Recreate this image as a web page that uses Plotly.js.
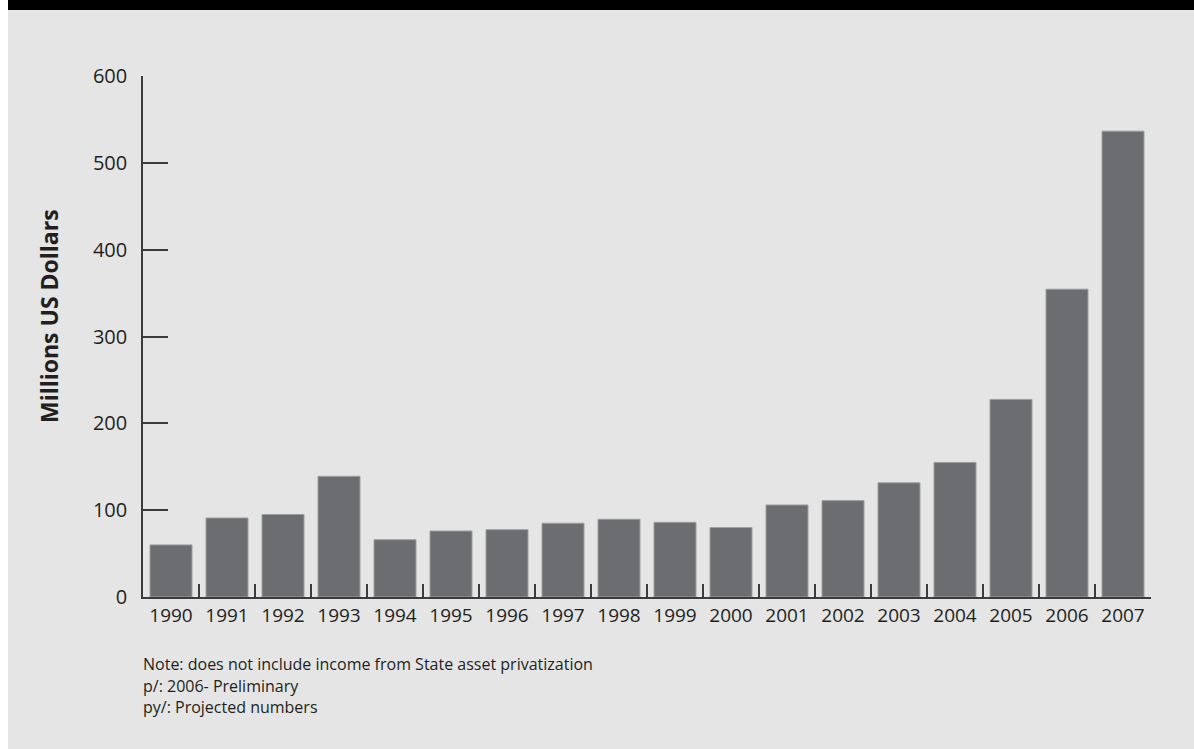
<!DOCTYPE html>
<html>
<head>
<meta charset="utf-8">
<script src="https://cdn.plot.ly/plotly-3.0.1.min.js"></script>
<style>
  html, body { margin: 0; padding: 0; background: #ffffff; }
  #chart { width: 1194px; height: 749px; }
</style>
</head>
<body>
<div id="chart"></div>
<script>
// ---- data ----
const years = ["1990","1991","1992","1993","1994","1995","1996","1997","1998","1999","2000","2001","2002","2003","2004","2005","2006","2007"];
const values = [60, 91, 95, 139, 66, 76, 77.5, 85, 89.5, 86, 80, 106, 111, 131.5, 155, 227.5, 354.5, 536.5];
const yTickVals = [0, 100, 200, 300, 400, 500, 600];
const yTitle = "Millions US Dollars";
const noteLines = [
  "Note: does not include income from State asset privatization",
  "p/: 2006- Preliminary",
  "py/: Projected numbers"
];

// ---- geometry (pixels) ----
const W = 1194, H = 749;
const mL = 143, mR = 43, mT = 76, mB = 152;
const plotW = W - mL - mR, plotH = H - mT - mB;
const px = x => (x - mL) / plotW;          // pixel x -> paper
const py = y => (H - mB - y) / plotH;      // pixel y -> paper

const textColor = "#231f20";
const axisColor = "#3c3c3e";

const trace = {
  type: "bar",
  x: years,
  y: values,
  marker: { color: "#6c6d71", line: { color: "#9d9ea0", width: 1 } },
  hoverinfo: "x+y"
};

const noteY = [664, 685.5, 707];
const noteAnnotations = noteLines.map((t, i) => ({
  text: t, align: "left",
  xref: "paper", yref: "paper", x: px(142), y: py(noteY[i]),
  xanchor: "left", yanchor: "middle", showarrow: false, borderpad: 0,
  font: { family: "Open Sans, sans-serif", size: 16, color: textColor }
}));

const layout = {
  width: W, height: H,
  margin: { l: mL, r: mR, t: mT, b: mB, pad: 0 },
  paper_bgcolor: "#ffffff",
  plot_bgcolor: "rgba(0,0,0,0)",
  bargap: 0.25,
  showlegend: false,
  font: { family: "Open Sans, sans-serif", color: textColor },
  xaxis: {
    type: "category",
    showline: true, linecolor: axisColor, linewidth: 1.5,
    ticks: "inside", tickson: "boundaries", ticklen: 13, tickwidth: 1.5, tickcolor: axisColor,
    showgrid: false, zeroline: false,
    tickfont: { family: "Open Sans, sans-serif", size: 19, color: textColor },
    ticklabelstandoff: 0,
    fixedrange: true
  },
  yaxis: {
    range: [0, 600],
    tickvals: yTickVals,
    showline: true, linecolor: axisColor, linewidth: 1.5,
    ticks: "inside", ticklen: 25, tickwidth: 1.5, tickcolor: axisColor,
    showgrid: false, zeroline: false,
    tickfont: { family: "Open Sans, sans-serif", size: 20, color: textColor },
    ticklabelstandoff: 10,
    fixedrange: true
  },
  shapes: [
    { type: "rect", xref: "paper", yref: "paper", layer: "below",
      x0: px(8), x1: px(W + 2), y0: py(H + 2), y1: py(0),
      fillcolor: "#e5e5e5", line: { width: 0 } },
    { type: "rect", xref: "paper", yref: "paper", layer: "below",
      x0: px(8), x1: px(W + 2), y0: py(10), y1: py(-2),
      fillcolor: "#000000", line: { width: 0 } }
  ],
  annotations: [
    { text: "<b>" + yTitle + "</b>", textangle: -90,
      xref: "paper", yref: "paper", x: px(49), y: py(316),
      xanchor: "center", yanchor: "middle", showarrow: false,
      font: { family: "Open Sans, sans-serif", size: 23, color: textColor } }
  ].concat(noteAnnotations)
};

Plotly.newPlot("chart", [trace], layout, { displayModeBar: false });
</script>
</body>
</html>
